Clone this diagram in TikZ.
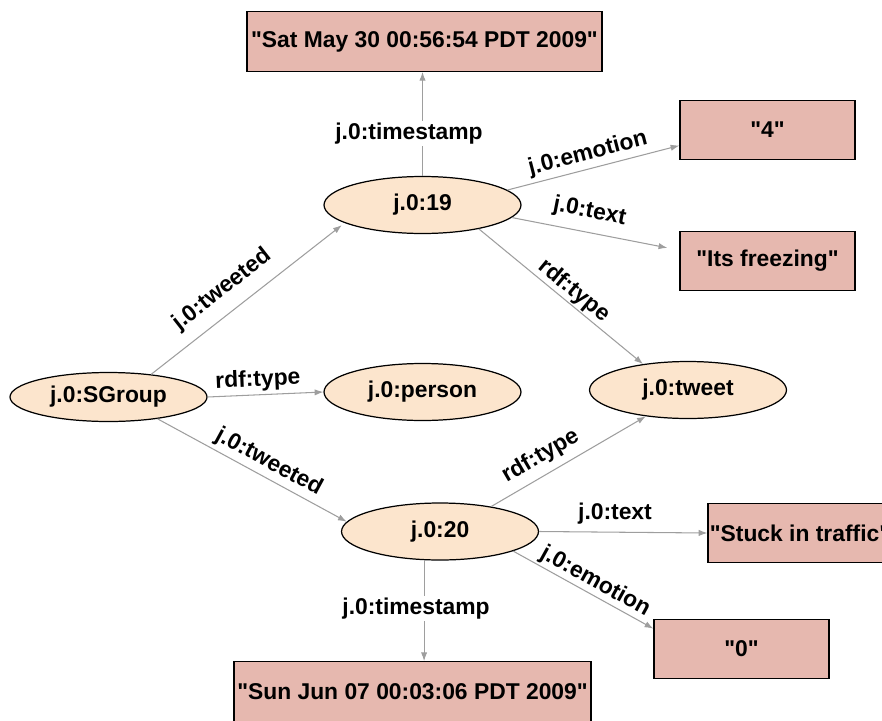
\documentclass[tikz,border=0pt]{standalone}
\usepackage{fontspec}
\newfontfamily\diagfont{Liberation Sans}
\usepackage{xcolor}
\usetikzlibrary{shapes.geometric, arrows.meta}
\definecolor{peach}{HTML}{FCE5CD}
\definecolor{rose}{HTML}{E6B8AF}
\definecolor{arcgray}{HTML}{9E9E9E}

\begin{document}
\begin{tikzpicture}[x=0.02cm, y=-0.02cm,
    font=\diagfont\fontsize{13}{15}\selectfont\bfseries,
    res/.style={draw, ellipse, fill=peach, line width=0.7pt, minimum width=3.94cm, minimum height=1.14cm},
    lit/.style={draw, rectangle, fill=rose, line width=0.7pt, inner sep=1pt, minimum height=1.19cm},
    arc/.style={-{Latex[length=5pt,width=3.6pt]}, arcgray, line width=0.6pt},
    lbl/.style={sloped, above, text=black},
    stamp/.style={fill=white, inner sep=1pt, text=black}]
    \useasboundingbox (0,0) rectangle (882,720);

    % Resources
    \node[res, minimum height=0.98cm] (sg) at (108.5,397) {j.0:SGroup};
    \node[res] (n19) at (422.5,205) {j.0:19};
    \node[res] (n20) at (440,531.5) {j.0:20};
    \node[res] (person) at (422.5,392) {j.0:person};
    \node[res] (tweet) at (688,390) {j.0:tweet};

    % Literals
    \node[lit, minimum width=7.1cm] (ts19) at (424.5,41.5) {"Sat May 30 00:56:54 PDT 2009"};
    \node[lit, minimum width=3.5cm] (emo19) at (767.5,130) {"4"};
    \node[lit, minimum width=3.5cm] (txt19) at (767.5,261) {"Its freezing"};
    \node[lit, minimum width=3.5cm] (txt20) at (800,533) {"Stuck in traffic"};
    \node[lit, minimum width=3.5cm] (emo20) at (741.5,649) {"0"};
    \node[lit, minimum width=7.14cm] (ts20) at (412.5,691.5) {"Sun Jun 07 00:03:06 PDT 2009"};

    % SGroup
    \draw[arc, shorten >=2pt] (sg.28) -- node[lbl, pos=.44, inner ysep=6.6pt] {j.0:tweeted} (n19.193);
    \draw[arc] (sg.east) -- node[lbl, pos=.44, inner ysep=1.9pt] {rdf:type} (person.west);
    \draw[arc] (sg.-24) -- node[lbl, pos=.55, inner ysep=2.2pt] {j.0:tweeted} (n20.174);

    % j.0:19
    \draw[arc] (n19.north) -- node[stamp, pos=.41, xshift=-0.27cm] {j.0:timestamp} (n19.north |- ts19.south);
    \draw[arc] (n19.10) -- node[lbl, pos=.49, inner ysep=2.2pt] {j.0:emotion} (emo19.190);
    \draw[arc, shorten >=7pt] (n19.-8) -- node[lbl, pos=.44, inner ysep=5.4pt] {j.0:text} (txt19.173);
    \draw[arc] (n19.-23) -- node[lbl, pos=.53, inner ysep=0.7pt] {rdf:type} (tweet.150);

    % j.0:20
    \draw[arc] (n20.26) -- node[lbl, pos=.38, inner ysep=4.1pt] {rdf:type} (tweet.212);
    \draw[arc] (n20.east) -- node[lbl, pos=.45, inner ysep=4.1pt] {j.0:text} (txt20.west);
    \draw[arc] (n20.-15) -- node[lbl, pos=.54, inner ysep=1pt] {j.0:emotion} (emo20.167);
    \draw[arc] (n20.241) -- node[stamp, pos=.48, xshift=-0.16cm] {j.0:timestamp} (n20.241 |- ts20.north);
\end{tikzpicture}
\end{document}
